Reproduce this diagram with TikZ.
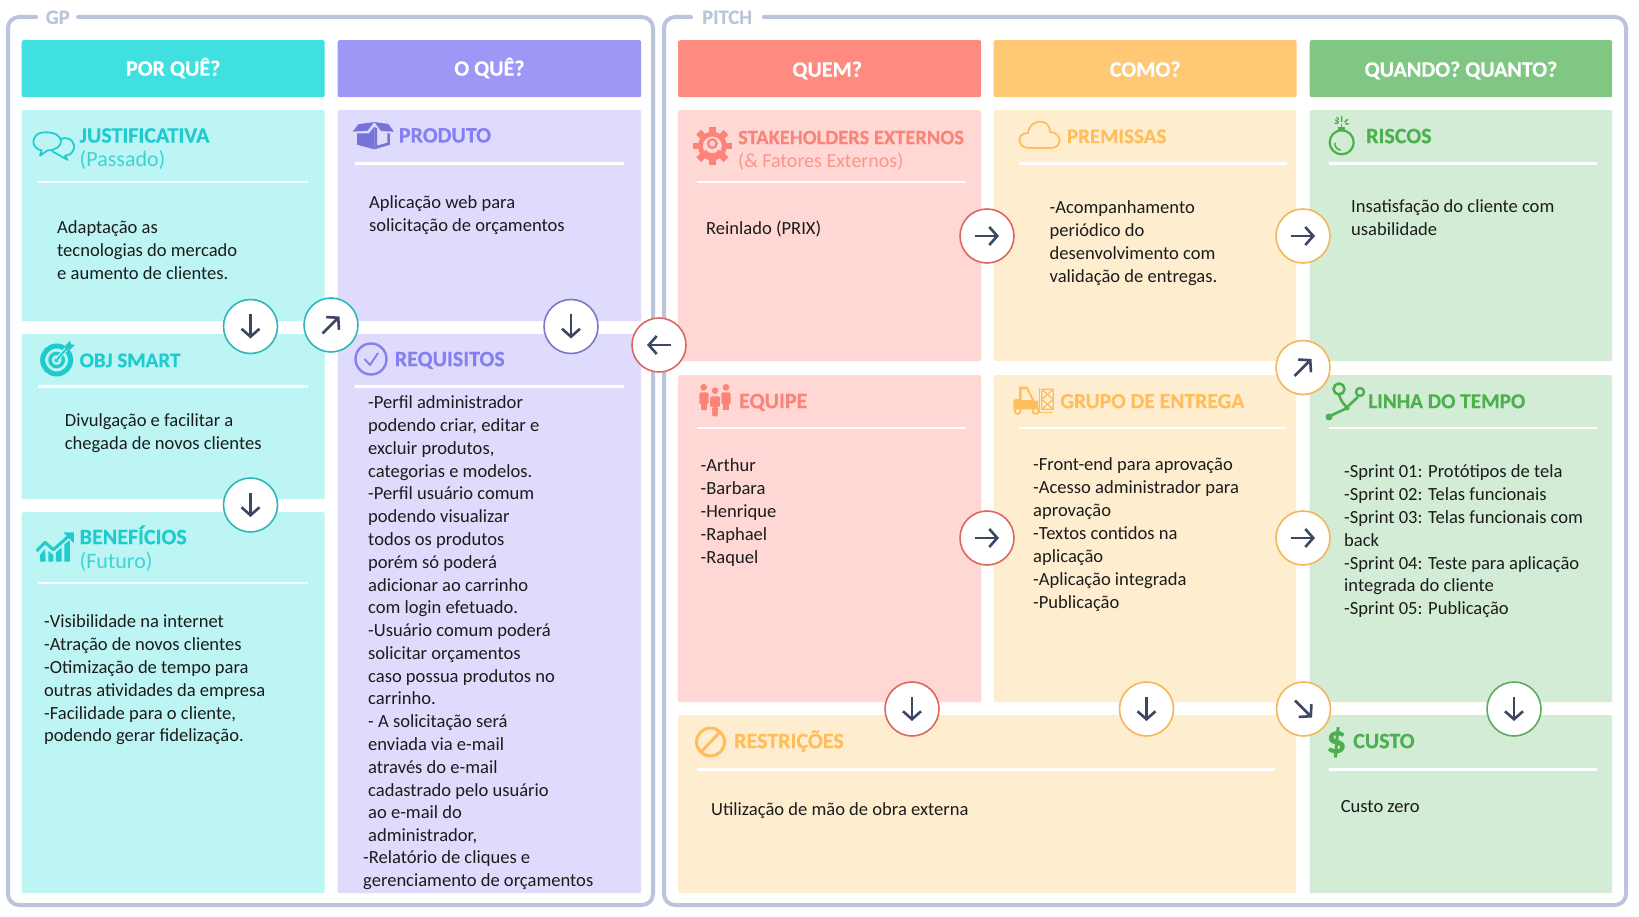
\documentclass[tikz,border=0pt]{standalone}
\usepackage{fontspec}
\setmainfont{Carlito}
\usetikzlibrary{arrows.meta}
\definecolor{frm}{HTML}{BCC4DC}
\definecolor{ink}{HTML}{3D4663}
\definecolor{txt}{HTML}{1C1C1C}
\definecolor{hTeal}{HTML}{40E0E0}\definecolor{pTeal}{HTML}{BDF5F5}\definecolor{tTeal}{HTML}{1FCBCD}\definecolor{cTeal}{HTML}{2FB6BA}
\definecolor{hPur}{HTML}{9D97F5}\definecolor{pPur}{HTML}{DEDBFC}\definecolor{tPur}{HTML}{8580F0}\definecolor{cPur}{HTML}{7C78C8}
\definecolor{hRed}{HTML}{FF8A80}\definecolor{pRed}{HTML}{FFD7D5}\definecolor{tRed}{HTML}{FB8479}\definecolor{cRed}{HTML}{DC6660}
\definecolor{hOra}{HTML}{FFC875}\definecolor{pOra}{HTML}{FFEDD0}\definecolor{tOra}{HTML}{FFBE5C}\definecolor{cOra}{HTML}{F2B75A}
\definecolor{hGre}{HTML}{80C784}\definecolor{pGre}{HTML}{D3ECD5}\definecolor{tGre}{HTML}{4CAF50}\definecolor{cGre}{HTML}{5BAB60}
\newcommand{\heavy}{\bfseries\addfontfeature{FakeBold=0.35}}
\tikzset{
  framepath/.style={draw=frm,line width=4pt,rounded corners=11pt,line cap=round},
  framelabel/.style={anchor=base west,inner sep=0pt,text=frm,font=\fontsize{20.5}{21}\selectfont\heavy},
  head/.style={anchor=north west,inner sep=0pt,rounded corners=2pt,text=white,text height=14pt,text depth=0pt,font=\fontsize{22}{22}\selectfont\heavy},
  panel/.style={anchor=north west,inner sep=0pt,rounded corners=2pt},
  rulebar/.style={draw=white,line width=2.4pt},
  ttl/.style={anchor=base west,inner sep=0pt,yshift=-1.2pt,font=\fontsize{22}{22}\selectfont\heavy},
  sub/.style={anchor=base west,inner sep=0pt,yshift=-1pt,font=\fontsize{22}{22}\selectfont},
  bodytxt/.style={anchor=north west,inner sep=0pt,align=left,text=txt,yshift=16pt,font=\fontsize{18.55}{22.9}\selectfont,execute at begin node=\strut},
  bodymulti/.style={bodytxt,yshift=-3.7pt},
  flow/.style={circle,draw=#1,fill=white,line width=1.6pt,minimum size=54pt,inner sep=0pt},
  flowarrow/.style={draw=ink,line width=2.6pt,-{Straight Barb[length=8pt,width=18pt,line width=2.6pt]}},
}
\newcommand{\flownode}[5]{%
  \node[flow=#4] (#1) at (#2,#3) {};
  \draw[flowarrow] ([shift={(#5:-12pt)}]#1.center) -- ([shift={(#5:12pt)}]#1.center);}
\begin{document}
\begin{tikzpicture}[x=1pt,y=-1pt]
\useasboundingbox (0,0) rectangle (1639,917);
\fill[white] (0,0) rectangle (1639,917);
% frames
\draw[framepath] (36,17) -- (8,17) -- (8,905) -- (653,905) -- (653,17) -- (78,17);
\draw[framepath] (691,17) -- (664,17) -- (664,905) -- (1626,905) -- (1626,17) -- (764,17);
\node[framelabel] (gp) at (45.5,24) {GP};
\node[framelabel] (pitch) at (702,24) {PITCH};
% headers
\node[head,fill=hTeal,minimum width=303pt,minimum height=57pt] (h1) at (21.5,40) {POR QUÊ?};
\node[head,fill=hPur,minimum width=303.5pt,minimum height=57pt] (h2) at (337.5,40) {O QUÊ?};
\node[head,fill=hRed,minimum width=303pt,minimum height=57pt] (h3) at (678,40) {\raisebox{-1pt}{\kern-5pt QUEM?}};
\node[head,fill=hOra,minimum width=303pt,minimum height=57pt] (h4) at (993.5,40) {\raisebox{-1pt}{COMO?}};
\node[head,fill=hGre,minimum width=302.5pt,minimum height=57pt] (h5) at (1309.5,40) {\raisebox{-1pt}{QUANDO? QUANTO?}};
% panels
\node[panel,fill=pTeal,minimum width=303pt,minimum height=211pt] (p1) at (21.5,110) {};
\node[panel,fill=pTeal,minimum width=303pt,minimum height=165pt] (p2) at (21.5,334) {};
\node[panel,fill=pTeal,minimum width=303pt,minimum height=381pt] (p3) at (21.5,512) {};
\node[panel,fill=pPur,minimum width=303.5pt,minimum height=211pt] (p4) at (337.5,110) {};
\node[panel,fill=pPur,minimum width=303.5pt,minimum height=559pt] (p5) at (337.5,334) {};
\node[panel,fill=pRed,minimum width=303pt,minimum height=251pt] (p6) at (678,110) {};
\node[panel,fill=pRed,minimum width=303pt,minimum height=327pt] (p7) at (678,375) {};
\node[panel,fill=pOra,minimum width=302.5pt,minimum height=251pt] (p8) at (993.5,110) {};
\node[panel,fill=pOra,minimum width=302.5pt,minimum height=327pt] (p9) at (993.5,375) {};
\node[panel,fill=pOra,minimum width=618pt,minimum height=178pt] (p10) at (678,715) {};
\node[panel,fill=pGre,minimum width=302.5pt,minimum height=251pt] (p11) at (1309.5,110) {};
\node[panel,fill=pGre,minimum width=302.5pt,minimum height=327pt] (p12) at (1309.5,375) {};
\node[panel,fill=pGre,minimum width=302.5pt,minimum height=178pt] (p13) at (1309.5,715) {};
% rules
\draw[rulebar] (38,182) -- (308,182);
\draw[rulebar] (354.5,163.5) -- (624,163.5);
\draw[rulebar] (38,386.3) -- (308,386.3);
\draw[rulebar] (354.5,386.3) -- (624,386.3);
\draw[rulebar] (38,583) -- (308,583);
\draw[rulebar] (697,182) -- (966,182);
\draw[rulebar] (1019,163.5) -- (1287,163.5);
\draw[rulebar] (1328.5,163.5) -- (1597,163.5);
\draw[rulebar] (697,428) -- (966,428);
\draw[rulebar] (1019,428) -- (1287,428);
\draw[rulebar] (1328.5,428) -- (1597,428);
\draw[rulebar] (697,769.3) -- (1275,769.3);
\draw[rulebar] (1328.5,769.3) -- (1597,769.3);
% titles
\node[ttl,text=tTeal] (t1) at (79.5,141.4) {JUSTIFICATIVA};
\node[sub,text=tTeal!85!white] (s1) at (79.5,166) {(Passado)};
\node[ttl,text=tPur] (t2) at (398.7,141.3) {PRODUTO};
\node[ttl,text=tTeal,font=\fontsize{21}{21}\selectfont\heavy] (t3) at (79.5,366) {OBJ SMART};
\node[ttl,text=tPur] (t4) at (394.6,365) {REQUISITOS};
\node[ttl,text=tTeal] (t5) at (79.5,543) {BENEFÍCIOS};
\node[sub,text=tTeal!85!white] (s5) at (79.5,567.7) {(Futuro)};
\node[ttl,text=tRed,font=\fontsize{20.5}{21}\selectfont\heavy] (t6) at (738,143) {STAKEHOLDERS EXTERNOS};
\node[sub,text=tRed!85!white,font=\fontsize{20}{21}\selectfont] (s6) at (738,166.7) {(\& Fatores Externos)};
\node[ttl,text=tOra,font=\fontsize{21}{21}\selectfont\heavy] (t7) at (1066.7,142) {PREMISSAS};
\node[ttl,text=tGre] (t8) at (1366,142) {RISCOS};
\node[ttl,text=tRed] (t9) at (739,407) {EQUIPE};
\node[ttl,text=tOra,font=\fontsize{21.6}{22}\selectfont\heavy] (t10) at (1060,407) {GRUPO DE ENTREGA};
\node[ttl,text=tGre,font=\fontsize{21.2}{22}\selectfont\heavy] (t11) at (1368,407) {LINHA DO TEMPO};
\node[ttl,text=tOra] (t12) at (734,747) {RESTRIÇÕES};
\node[ttl,text=tGre] (t13) at (1353,747) {CUSTO};
\node[anchor=base west,inner sep=0pt,text=tGre,font=\fontsize{40}{40}\selectfont\heavy] (dollar) at (1326,753) {\$};
% body text
\node[bodymulti] (b1) at (57,232.7) {Adaptação as\\tecnologias do mercado\\e aumento de clientes.};
\node[bodymulti] (b2) at (369,208) {Aplicação web para\\solicitação de orçamentos};
\node[bodymulti] (b3) at (64.7,426) {Divulgação e facilitar a\\chegada de novos clientes};
\node[bodymulti,font=\fontsize{18.55}{22.78}\selectfont] (b4) at (368,408) {-Perfil administrador\\podendo criar, editar e\\excluir produtos,\\categorias e modelos.\\-Perfil usuário comum\\podendo visualizar\\todos os produtos\\porém só poderá\\adicionar ao carrinho\\com login efetuado.\\-Usuário comum poderá\\solicitar orçamentos\\caso possua produtos no\\carrinho.\\- A solicitação será\\enviada via e-mail\\através do e-mail\\cadastrado pelo usuário\\ao e-mail do\\administrador,};
\node[bodymulti] (b4b) at (363,862.7) {-Relatório de cliques e\\gerenciamento de orçamentos};
\node[bodymulti] (b5) at (44,626.7) {-Visibilidade na internet\\-Atração de novos clientes\\-Otimização de tempo para\\outras atividades da empresa\\-Facilidade para o cliente,\\podendo gerar fidelização.};
\node[bodytxt] (b6) at (706,234) {Reinlado (PRIX)};
\node[bodymulti] (b7) at (1049.5,213) {-Acompanhamento\\periódico do\\desenvolvimento com\\validação de entregas.};
\node[bodymulti] (b8) at (1351,211.7) {Insatisfação do cliente com\\usabilidade};
\node[bodymulti] (b9) at (700.5,470.7) {-Arthur\\-Barbara\\-Henrique\\-Raphael\\-Raquel};
\node[bodymulti] (b10) at (1033,470) {-Front-end para aprovação\\-Acesso administrador para\\aprovação\\-Textos contidos na\\aplicação\\-Aplicação integrada\\-Publicação};
\node[bodymulti] (b11) at (1344,476.7) {-Sprint 01: Protótipos de tela\\-Sprint 02: Telas funcionais\\-Sprint 03: Telas funcionais com\\back\\-Sprint 04: Teste para aplicação\\integrada do cliente\\-Sprint 05: Publicação};
\node[bodytxt] (b12) at (711,815) {Utilização de mão de obra externa};
\node[bodytxt] (b13) at (1340.6,812.5) {Custo zero};
% icons -----------------------------------------
% bubbles
\begin{scope}[shift={(25,115)},x=0.3333pt,y=-0.3333pt,line width=1.7pt,line join=round]
 \draw[tTeal,fill=pTeal] (108,72) .. controls (135,62) and (155,85) .. (145,105) .. controls (140,118) and (130,122) .. (120,122) -- (128,135) -- (105,122) -- (80,108);
 \draw[tTeal,fill=pTeal] (65,52) .. controls (35,50) and (25,68) .. (25,80) .. controls (25,95) and (38,105) .. (50,106) -- (45,122) -- (68,106) .. controls (95,106) and (108,92) .. (108,78) .. controls (108,65) and (90,52) .. (65,52) -- cycle;
\end{scope}
% box
\begin{scope}[shift={(345,110)},x=0.3333pt,y=-0.3333pt]
 \fill[tPur!90!black] (23,65) -- (40,43) -- (88,36) -- (68,62) -- cycle;
 \fill[tPur!90!black] (88,36) -- (130,42) -- (147,65) -- (108,63) -- cycle;
 \fill[tPur!90!black] (36,70) -- (72,70) -- (88,50) -- (88,118) -- (36,104) -- cycle;
 \fill[tPur!90!black] (88,118) -- (135,104) -- (135,70) -- (127,70) -- (127,98) -- (96,107) -- (96,55) -- (88,50) -- cycle;
\end{scope}
% target
\begin{scope}[shift={(30,335)},x=0.3333pt,y=-0.3333pt]
 \draw[tTeal,line width=5pt] (80,75) circle[radius=42];
 \draw[tTeal,line width=3.4pt] (80,75) circle[radius=20];
 \fill[tTeal] (80,75) circle[radius=7];
 \draw[pTeal,line width=4pt] (80,75) -- (108,42);
 \draw[tTeal,line width=1.8pt] (80,75) -- (112,38);
 \fill[tTeal] (105,33) -- (120,18) -- (123,28) -- (135,30) -- (120,45) -- cycle;
\end{scope}
% chart
\begin{scope}[shift={(30,525)},x=0.3333pt,y=-0.3333pt]
 \draw[tTeal,line width=3pt,line join=round] (20,78) -- (45,52) -- (70,74) -- (118,32);
 \fill[tTeal] (100,22) -- (132,22) -- (132,55) -- cycle;
 \fill[tTeal] (30,90) -- (45,72) -- (47,110) -- (30,110) -- cycle;
 \fill[tTeal] (55,78) -- (70,90) -- (70,110) -- (55,110) -- cycle;
 \fill[tTeal] (78,82) -- (95,68) -- (95,110) -- (78,110) -- cycle;
 \fill[tTeal] (103,58) -- (120,45) -- (120,110) -- (103,110) -- cycle;
\end{scope}
% gear
\begin{scope}[shift={(685,120)},x=0.3333pt,y=-0.3333pt]
 \begin{scope}[shift={(82,78)}]
  \foreach \a in {0,45,...,315} \fill[tRed,rotate=\a] (-10,-58) rectangle (10,-36);
 \end{scope}
 \draw[tRed,line width=4.8pt] (82,78) circle[radius=36];
 \draw[tRed,line width=2.2pt] (82,71) circle[radius=13];
 \draw[tRed,line width=2.6pt] (60,92) .. controls (68,108) and (96,108) .. (104,92);
\end{scope}
% check
\draw[tPur,line width=2.4pt] (371,359) circle[radius=15.5];
\draw[tPur,line width=1.9pt,line join=round] (364.5,359) -- (370,365) -- (378,353);
% cloud
\draw[tOra,line width=1.8pt,line join=round] (1029,148) .. controls (1017,148) and (1016,133) .. (1028,133) .. controls (1029,119) and (1050,117) .. (1050,132) .. controls (1062,132) and (1063,148) .. (1051,148) -- cycle;
% bomb
\begin{scope}[shift={(1315,110)},x=0.3333pt,y=-0.3333pt,line cap=round]
 \draw[tGre,line width=2.2pt] (80,97) circle[radius=36];
 \draw[tGre,line width=1.6pt] (60,100) .. controls (60,112) and (66,118) .. (76,120);
 \fill[tGre] (70,50) rectangle (90,62);
 \draw[tGre,line width=1.5pt] (80,52) -- (80,44);
 \draw[tGre,line width=1.5pt] (80,34) -- (80,20) (70,36) -- (62,30) (90,36) -- (98,28) (66,22) -- (70,28) (60,40) -- (68,40) (92,42) -- (100,42);
\end{scope}
% people
\begin{scope}[shift={(690,375)},x=0.3333pt,y=-0.3333pt]
 \fill[tRed] (41,37) circle[radius=10];
 \fill[tRed] (108,37) circle[radius=10];
 \fill[tRed,rounded corners=2pt] (28,52) rectangle (56,88);
 \fill[tRed] (34,85) rectangle (52,104);
 \fill[tRed,rounded corners=2pt] (94,52) rectangle (122,88);
 \fill[tRed] (98,85) rectangle (116,104);
 \draw[pRed,line width=1pt,fill=tRed] (75,47) circle[radius=12];
 \draw[pRed,line width=1pt,fill=tRed,rounded corners=2pt] (58,63) -- (92,63) -- (92,97) -- (85,97) -- (85,126) -- (65,126) -- (65,97) -- (58,97) -- cycle;
\end{scope}
% forklift
\begin{scope}[shift={(1005,380)},x=0.3333pt,y=-0.3333pt]
 \fill[tOra] (42,20) -- (68,20) -- (88,62) -- (100,62) -- (100,88) -- (25,88) -- (25,60) -- (42,55) -- cycle;
 \fill[pOra] (50,28) -- (64,28) -- (80,60) -- (50,60) -- cycle;
 \draw[tOra,line width=1.8pt,fill=pOra] (38,93) circle[radius=9];
 \draw[tOra,line width=1.8pt,fill=pOra] (92,93) circle[radius=9];
 \draw[tOra,line width=1.6pt] (104,25) -- (104,98) -- (145,98);
 \draw[tOra,line width=1.3pt] (110,28) rectangle (145,88) (110,28) -- (145,58) -- (110,88) (145,28) -- (110,58) -- (145,88);
\end{scope}
% timeline
\draw[tGre,line width=2.6pt] (1339,389) circle[radius=5.5];
\draw[tGre,line width=2.4pt] (1360,392) circle[radius=4];
\draw[tGre,line width=2.6pt] (1339,395) .. controls (1341,402) and (1345,405) .. (1348,409);
\draw[tGre,line width=2.6pt] (1358,397) -- (1345,409) -- (1330,416);
\fill[tGre] (1329,417) circle[radius=3.5];
\fill[tGre] (1347,408) circle[radius=2.5];
% no sign
\draw[tOra,line width=3pt] (710.5,742) circle[radius=14] (701,752) -- (720,732);
% flow circles
\flownode{c1}{250.5}{326.5}{cTeal}{-90}
\flownode{c2}{331}{325}{cTeal}{45}
\flownode{c3}{571}{326.5}{cPur}{-90}
\flownode{c4}{659}{345}{cRed}{180}
\flownode{c5}{250.5}{505}{cTeal}{-90}
\flownode{c6}{987}{236}{cRed}{0}
\flownode{c7}{1303}{236}{cOra}{0}
\flownode{c8}{1303}{367.5}{cOra}{45}
\flownode{c9}{987}{538}{cRed}{0}
\flownode{c10}{1303}{538}{cOra}{0}
\flownode{c11}{912}{709}{cRed}{-90}
\flownode{c12}{1146.5}{709}{cOra}{-90}
\flownode{c13}{1303.5}{709}{cOra}{-45}
\flownode{c14}{1514}{709}{cGre}{-90}
\end{tikzpicture}
\end{document}
